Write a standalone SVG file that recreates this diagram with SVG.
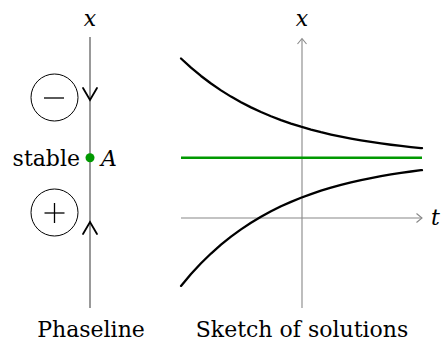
<svg xmlns="http://www.w3.org/2000/svg" width="441" height="343" viewBox="0 0 441 343">
<style>
.axis{stroke:#888;stroke-width:1.1;fill:none}
.curve{stroke:#000;stroke-width:2.3;fill:none;stroke-linejoin:round;stroke-linecap:round}
.chev{stroke:#000;stroke-width:1.8;fill:none;stroke-linecap:round;stroke-linejoin:miter}
.sign{stroke:#000;stroke-width:1;fill:none}
.lbl{font-family:'DejaVu Serif','Liberation Serif',serif;font-size:22px;fill:#000}
</style>
<rect width="441" height="343" fill="#fff"/>
<g id="connectors">
  <line x1="90" y1="37" x2="90" y2="308" stroke="#555" stroke-width="1.2"/>
  <polyline class="chev" points="83,88 90,100 97,88"/>
  <polyline class="chev" points="83,234 90,222 97,234"/>
  <line class="axis" x1="302" y1="308" x2="302" y2="39"/>
  <polyline class="axis" points="297.5,44 302,38.5 306.5,44"/>
  <line class="axis" x1="181" y1="218" x2="422" y2="218"/>
  <polyline class="axis" points="416.5,213.5 422,218 416.5,222.5"/>
</g>
<g class="lbl">
<g id="phaseline-labels">
  <text font-style="italic" x="90" y="26" text-anchor="middle">x</text>
  <text x="80" y="166" text-anchor="end">stable</text>
  <text font-style="italic" x="101" y="166">A</text>
  <text x="91" y="337" text-anchor="middle">Phaseline</text>
</g>
<g id="plot-labels">
  <text font-style="italic" x="302" y="26" text-anchor="middle">x</text>
  <text font-style="italic" x="431" y="225">t</text>
  <text x="302" y="337" text-anchor="middle">Sketch of solutions</text>
</g>
</g>
<g id="minus">
  <circle class="sign" cx="54.5" cy="97.5" r="23.5"/>
  <line x1="44" y1="98" x2="64" y2="98" stroke="#000" stroke-width="1.3"/>
</g>
<g id="plus">
  <circle class="sign" cx="54.5" cy="212.5" r="23.5"/>
  <line x1="44.5" y1="213" x2="64.5" y2="213" stroke="#000" stroke-width="1.3"/>
  <line x1="54.5" y1="203" x2="54.5" y2="223" stroke="#000" stroke-width="1.3"/>
</g>
<g id="equilibrium">
  <circle cx="90" cy="157.7" r="4.5" fill="#009900"/>
</g>
<g id="plot">
  <line x1="181" y1="157.7" x2="422" y2="157.7" stroke="#009900" stroke-width="2.5"/>
  <polyline class="curve" points="181,58.5 191,67.67 201,75.99 211,83.54 221,90.39 231,96.61 241,102.25 251,107.38 261,112.03 271,116.25 281,120.08 291,123.55 301,126.71 311,129.57 321,132.17 331,134.53 341,136.67 351,138.62 361,140.38 371,141.98 381,143.43 391,144.75 401,145.95 411,147.03 421,148.02 422,148.1"/>
  <polyline class="curve" points="181,285.9 191,274.05 201,263.3 211,253.54 221,244.69 231,236.65 241,229.36 251,222.74 261,216.73 271,211.27 281,206.32 291,201.83 301,197.75 311,194.05 321,190.69 331,187.64 341,184.88 351,182.37 361,180.09 371,178.02 381,176.14 391,174.44 401,172.89 411,171.49 421,170.21 422,170.1"/>
</g>
</svg>
